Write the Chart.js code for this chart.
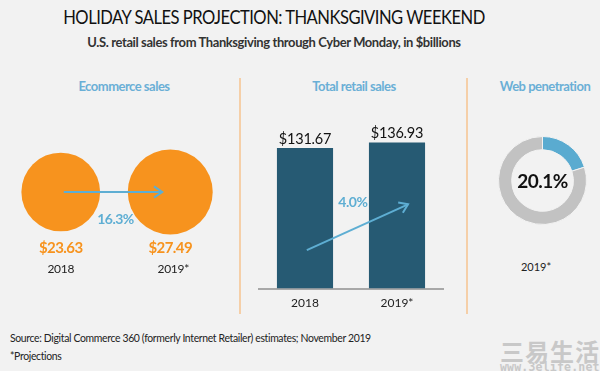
<!DOCTYPE html>
<html>
<head>
<meta charset="utf-8">
<script src="https://cdn.jsdelivr.net/npm/chart.js@4.4.0/dist/chart.umd.min.js"></script>
<style>
  html, body { margin: 0; padding: 0; }
  body { width: 600px; height: 371px; background: #f2f2f2; position: relative; overflow: hidden; font-family: Lato, 'Open Sans', sans-serif; }
  .txt { position: absolute; white-space: nowrap; transform-origin: center center; }
  .title { left: 0; width: 548px; top: 5px; text-align: center; font-size: 19.5px; color: #111; letter-spacing: -0.6px; transform: scaleX(0.85); }
  .subtitle { left: 0; width: 548px; top: 34px; text-align: center; font-size: 13.5px; font-weight: bold; color: #333; letter-spacing: -0.4px; transform: scaleX(0.96); }
  .panel-title { font-size: 13px; font-weight: bold; color: #6aafd6; letter-spacing: -0.5px; width: 200px; text-align: center; top: 78px; }
  .sep { position: absolute; width: 1.5px; background: #f5cfa8; top: 78px; height: 236px; }
  .foot { left: 10px; font-size: 12px; color: #222; letter-spacing: -0.4px; transform-origin: left center; transform: scaleX(0.87); }
  canvas { position: absolute; }
  .wm { position: absolute; color: #c8c8c8; white-space: nowrap; }
</style>
</head>
<body>
<div class="txt title">HOLIDAY SALES PROJECTION: THANKSGIVING WEEKEND</div>
<div class="txt subtitle">U.S. retail sales from Thanksgiving through Cyber Monday, in $billions</div>

<div class="txt panel-title" style="left:24px">Ecommerce sales</div>
<div class="txt panel-title" style="left:254px">Total retail sales</div>
<div class="txt panel-title" style="left:445px">Web penetration</div>

<div class="sep" style="left:239px"></div>
<div class="sep" style="left:466px"></div>

<canvas id="ecomChart" width="225" height="190" style="left:0px; top:100px;"></canvas>
<canvas id="retailChart" width="210" height="220" style="left:250px; top:97px;"></canvas>
<canvas id="webChart" width="89" height="89" style="left:498px; top:136px;"></canvas>
<div class="txt" style="left:486px; width:100px; text-align:center; top:260px; font-size:11px; color:#222;">2019*</div>

<div class="txt foot" style="top:330px">Source: Digital Commerce 360 (formerly Internet Retailer) estimates; November 2019</div>
<div class="txt foot" style="top:348px">*Projections</div>

<div class="wm" style="left:500px; top:333px; font-size:24px; font-weight:bold; font-family:'Noto Sans CJK SC'; letter-spacing:1px;">三易生活</div>
<div class="wm" style="left:500px; top:360px; font-size:11.5px; font-weight:bold; font-family:'DejaVu Sans Mono'; letter-spacing:0.2px;">www.3elife.net</div>

<script>
const years = ['2018', '2019*'];
const ecommerceSales = [23.63, 27.49];
const ecommerceGrowth = '16.3%';
const retailSales = [131.67, 136.93];
const retailGrowth = '4.0%';
const webPenetration = 20.1;

const orange = '#f7931e';
const blue = '#5eaed3';
const navy = '#265a73';

function arrowHead(ctx, x1, y1, x2, y2, size) {
  const a = Math.atan2(y2 - y1, x2 - x1);
  ctx.beginPath();
  ctx.moveTo(x2 - size * Math.cos(a - 0.6), y2 - size * Math.sin(a - 0.6));
  ctx.lineTo(x2, y2);
  ctx.lineTo(x2 - size * Math.cos(a + 0.6), y2 - size * Math.sin(a + 0.6));
  ctx.stroke();
}

// Ecommerce: bubbles sized by area
const bubbleScale = 8.1;
const ecomLabels = {
  id: 'ecomLabels',
  afterDatasetsDraw(chart) {
    const ctx = chart.ctx;
    const xs = chart.scales.x, ys = chart.scales.y;
    const cy = ys.getPixelForValue(0);
    const x0 = xs.getPixelForValue(0), x1 = xs.getPixelForValue(1);
    ctx.save();
    ctx.strokeStyle = blue;
    ctx.lineWidth = 2;
    ctx.beginPath();
    ctx.moveTo(x0 + 3, cy);
    ctx.lineTo(x1 - 8, cy);
    ctx.stroke();
    arrowHead(ctx, x0, cy, x1 - 8, cy, 10);
    ctx.textAlign = 'center';
    ctx.textBaseline = 'middle';
    ctx.fillStyle = blue;
    ctx.font = 'bold 14px Lato';
    ctx.letterSpacing = '-0.5px';
    ctx.fillText(ecommerceGrowth, (x0 + x1) / 2, cy + 27);
    ecommerceSales.forEach((v, i) => {
      const x = xs.getPixelForValue(i);
      ctx.fillStyle = orange;
      ctx.font = 'bold 15px Lato';
      ctx.letterSpacing = '-0.6px';
      ctx.fillText('$' + v.toFixed(2), x, cy + 56);
      ctx.fillStyle = '#222';
      ctx.font = '12px Lato';
      ctx.letterSpacing = '-0.3px';
      ctx.fillText(years[i], x + (i ? 3 : 0), cy + 77);
    });
    ctx.restore();
  }
};

new Chart(document.getElementById('ecomChart'), {
  type: 'bubble',
  data: {
    datasets: [{
      data: ecommerceSales.map((v, i) => ({ x: i, y: 0, r: bubbleScale * Math.sqrt(v) })),
      backgroundColor: orange,
      borderColor: orange,
      borderWidth: 0,
      clip: false
    }]
  },
  options: {
    responsive: false,
    animation: false,
    layout: { autoPadding: false, padding: { left: 6, right: 0, top: 42, bottom: 48 } },
    scales: {
      x: { display: false, min: -0.5, max: 1.5 },
      y: { display: false, min: -1, max: 1 }
    },
    plugins: { legend: { display: false }, tooltip: { enabled: false } }
  },
  plugins: [ecomLabels]
});

// Total retail: bars
const retailLabels = {
  id: 'retailLabels',
  afterDatasetsDraw(chart) {
    const ctx = chart.ctx;
    const xs = chart.scales.x, ys = chart.scales.y;
    const meta = chart.getDatasetMeta(0);
    ctx.save();
    ctx.textAlign = 'center';
    ctx.textBaseline = 'alphabetic';
    ctx.fillStyle = '#111';
    ctx.font = '14.5px Lato';
    ctx.letterSpacing = '-0.2px';
    meta.data.forEach((bar, i) => {
      ctx.fillText('$' + retailSales[i].toFixed(2), bar.x, bar.y - 4);
    });
    const px = v => xs.getPixelForValue(0) + v * (xs.getPixelForValue(1) - xs.getPixelForValue(0));
    const sx = px(0.02), sy = ys.getPixelForValue(36);
    const ex = px(1.12), ey = ys.getPixelForValue(79);
    ctx.strokeStyle = blue;
    ctx.lineWidth = 2;
    ctx.beginPath();
    ctx.moveTo(sx, sy);
    ctx.lineTo(ex, ey);
    ctx.stroke();
    arrowHead(ctx, sx, sy, ex, ey, 10);
    ctx.fillStyle = blue;
    ctx.font = 'bold 14px Lato';
    ctx.letterSpacing = '-0.5px';
    ctx.textBaseline = 'middle';
    ctx.fillText(retailGrowth, px(0.52), ys.getPixelForValue(81));
    ctx.restore();
  }
};

new Chart(document.getElementById('retailChart'), {
  type: 'bar',
  data: {
    labels: years,
    datasets: [{ data: retailSales, backgroundColor: navy, categoryPercentage: 1, barPercentage: 0.61 }]
  },
  options: {
    responsive: false,
    animation: false,
    layout: { padding: { left: 9, right: 17, top: 23, bottom: 0 } },
    scales: {
      x: {
        grid: { display: false, drawTicks: false },
        border: { display: true, color: '#a8a8a8', width: 2 },
        ticks: { color: '#222', font: { family: 'Lato', size: 12 }, padding: 7 }
      },
      y: { display: false, min: 0, max: 158 }
    },
    plugins: { legend: { display: false }, tooltip: { enabled: false } }
  },
  plugins: [retailLabels]
});

// Web penetration: doughnut
const centerText = {
  id: 'centerText',
  afterDraw(chart) {
    const ctx = chart.ctx;
    const a = chart.chartArea;
    ctx.save();
    ctx.textAlign = 'center';
    ctx.textBaseline = 'middle';
    ctx.fillStyle = '#111';
    ctx.font = 'bold 19px Lato';
    ctx.letterSpacing = '-0.5px';
    ctx.fillText(webPenetration.toFixed(1) + '%', (a.left + a.right) / 2, (a.top + a.bottom) / 2 + 1);
    ctx.restore();
  }
};

new Chart(document.getElementById('webChart'), {
  type: 'doughnut',
  data: {
    labels: ['Web', 'Other'],
    datasets: [{
      data: [webPenetration, 100 - webPenetration],
      backgroundColor: ['#5aabd0', '#c2c2c2'],
      borderColor: '#f2f2f2',
      borderWidth: 1
    }]
  },
  options: {
    responsive: false,
    animation: false,
    cutout: '70%',
    plugins: { legend: { display: false }, tooltip: { enabled: false } }
  },
  plugins: [centerText]
});
</script>
</body>
</html>
